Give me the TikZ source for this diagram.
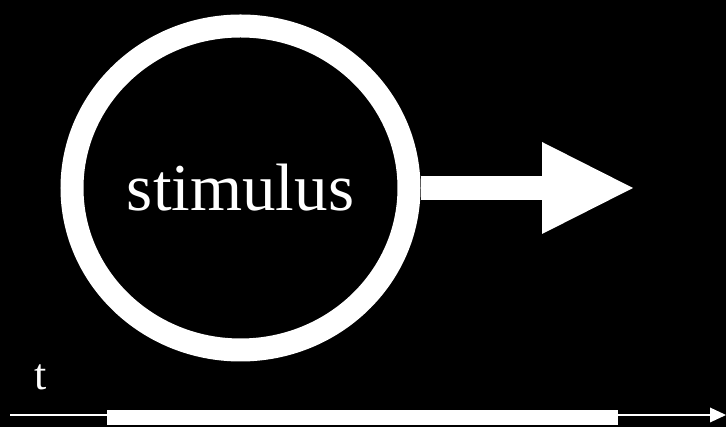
\documentclass[tikz,border=0pt]{standalone}
\usepackage{fontspec}
\setmainfont{Liberation Serif}
\usetikzlibrary{arrows.meta,shapes.geometric}

\begin{document}
\begin{tikzpicture}[x=1pt, y=1pt,
    ring/.style={ellipse, draw=white, line width=23pt, minimum width=337pt, minimum height=324pt, text=white, inner sep=0pt},
    bigarrow/.style={white, line width=24pt, -{Triangle[length=91pt, width=92pt, line width=0pt]}},
    timeline/.style={white, line width=2.5pt, -{Triangle[length=16pt, width=15pt, line width=0pt]}}]
    % Set the black background
    \fill[black] (0,0) rectangle (726,427);
    \useasboundingbox (0,0) rectangle (726,427);

    % Add the stimulus circle
    \node[ring] (stim) at (240.5,239) {\fontsize{67}{80}\selectfont stimulus};
    % Add the tip of the big arrow
    \coordinate (tip) at (633,239);
    \draw[bigarrow] (stim.east) -- (tip);

    % Add the time axis
    \coordinate (tstart) at (10,12);
    \coordinate (tend) at (726,12);
    \draw[timeline] (tstart) -- (tend);
    % Add the stimulus duration bar
    \fill[white] (107,2) rectangle (618,17);
    % Add the label t
    \node[text=white, inner sep=0pt] (tlabel) at (40.5,50) {\fontsize{44}{50}\selectfont t};
\end{tikzpicture}
\end{document}
